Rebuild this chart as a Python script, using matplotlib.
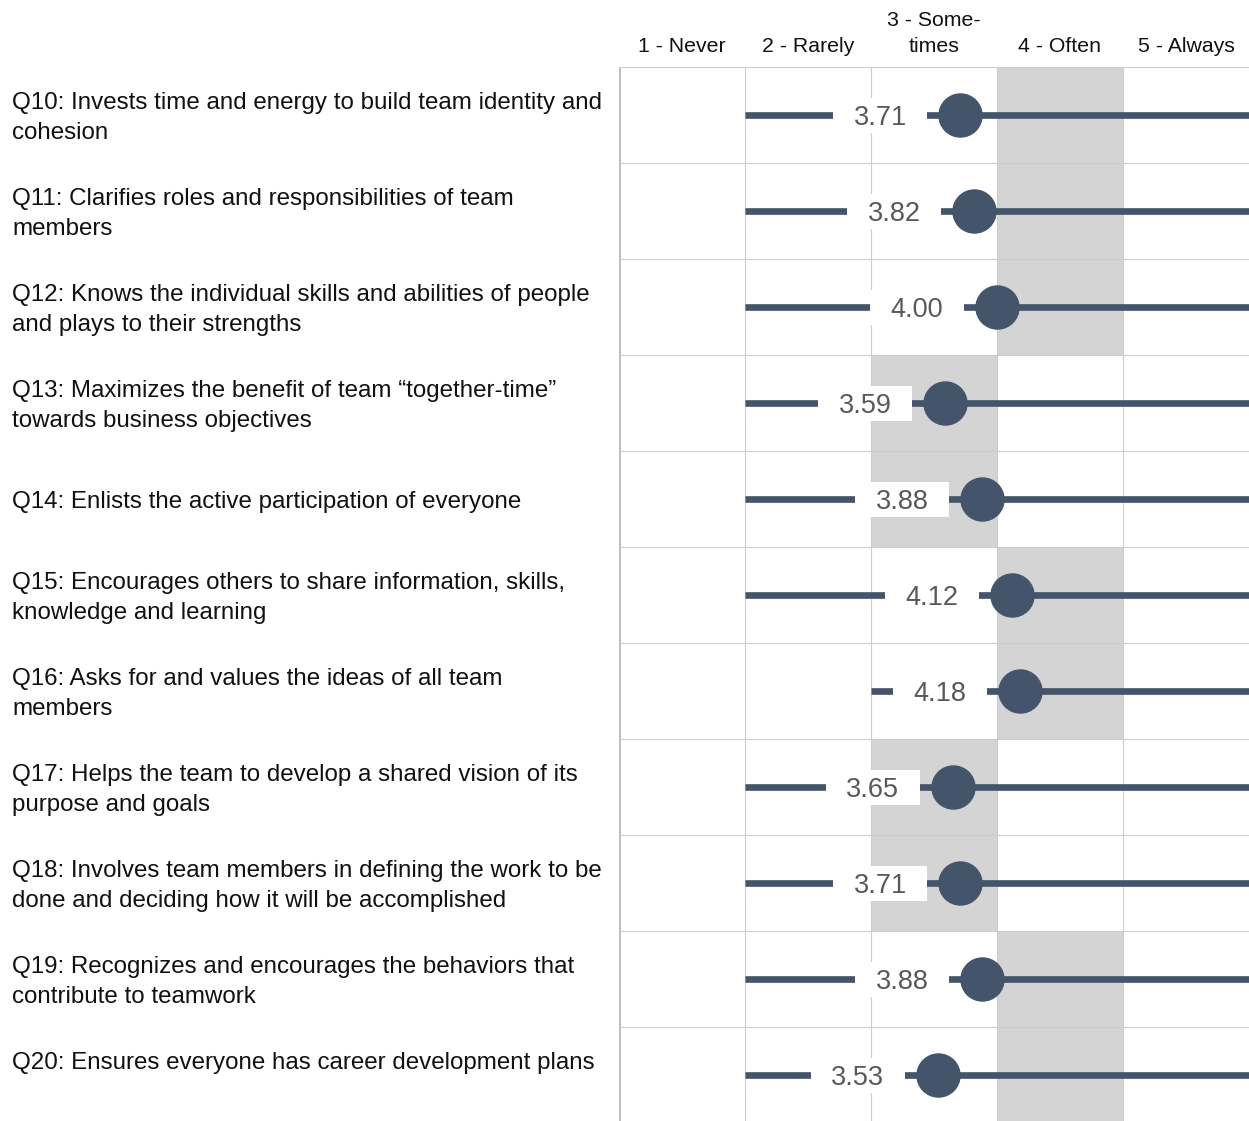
import matplotlib
matplotlib.use("Agg")
import matplotlib.pyplot as plt
from matplotlib.patches import Rectangle
from matplotlib import transforms

plt.rcParams['font.family'] = ['Liberation Sans', 'DejaVu Sans']

questions = [
    "Q10: Invests time and energy to build team identity and\ncohesion",
    "Q11: Clarifies roles and responsibilities of team\nmembers",
    "Q12: Knows the individual skills and abilities of people\nand plays to their strengths",
    "Q13: Maximizes the benefit of team \u201ctogether-time\u201d\ntowards business objectives",
    "Q14: Enlists the active participation of everyone",
    "Q15: Encourages others to share information, skills,\nknowledge and learning",
    "Q16: Asks for and values the ideas of all team\nmembers",
    "Q17: Helps the team to develop a shared vision of its\npurpose and goals",
    "Q18: Involves team members in defining the work to be\ndone and deciding how it will be accomplished",
    "Q19: Recognizes and encourages the behaviors that\ncontribute to teamwork",
    "Q20: Ensures everyone has career development plans\n",
]
means = [3.71, 3.82, 4.00, 3.59, 3.88, 4.12, 4.18, 3.65, 3.71, 3.88, 3.53]
min_resp = [2, 2, 2, 2, 2, 2, 3, 2, 2, 2, 2]
max_resp = [5, 5, 5, 5, 5, 5, 5, 5, 5, 5, 5]
mode_resp = [4, 4, 4, 3, 3, 4, 4, 3, 3, 4, 4]
scale_labels = ["1 - Never", "2 - Rarely", "3 - Some-\ntimes", "4 - Often", "5 - Always"]

W, H = 1249, 1121
navy = "#44546a"
grid_c = "#cccccc"

fig = plt.figure(figsize=(W / 100, H / 100), dpi=100)
ax = fig.add_axes([619 / W, 0, 630 / W, 1054 / H])
ax.set_xlim(1, 6)
ax.set_ylim(-0.5 + 1054 / 96, -0.5)
ax.axis("off")

px = 1 / 126  # data units per pixel, x
py = 1 / 96   # data units per pixel, y
n = len(questions)

# grid
for x in [2, 3, 4, 5]:
    ax.axvline(x, color=grid_c, lw=0.8, zorder=1)
ax.axvline(1, color="#bbbbbb", lw=2.0, zorder=1)
for i in range(n + 1):
    ax.axhline(i - 0.5, color=grid_c, lw=0.8, zorder=1)

lbl_tr = transforms.blended_transform_factory(fig.transFigure, ax.transData)

for i, q in enumerate(questions):
    m = means[i]
    # shaded mode column
    ax.add_patch(Rectangle((mode_resp[i], i - 0.5), 1, 1, facecolor="#d4d4d4",
                           edgecolor="none", zorder=0))
    # range line
    ax.plot([min_resp[i], max_resp[i] + 1], [i, i], color=navy, lw=4.8,
            solid_capstyle="butt", zorder=2)
    # value label box
    ax.add_patch(Rectangle((m - 127 * px, i - 17.5 * py), 94 * px, 35 * py,
                           facecolor="white", edgecolor="none", zorder=3))
    ax.text(m - 80 * px, i + 10 * py, f"{m:.2f}", ha="center", va="baseline",
            fontsize=19.5, color="#595959", zorder=4)
    ax.plot(m, i, "o", ms=31, color=navy, zorder=5)
    # question text
    ax.text(12 / W, i + 3 * py, q, transform=lbl_tr, ha="left", va="center",
            fontsize=17.4, color="#111111", linespacing=1.42, clip_on=False)

for c, s in enumerate(scale_labels, start=1):
    fig.text((619 + (c - 0.5) * 126) / W, 1 - 56 / H, s, ha="center", va="bottom",
             fontsize=15.3, color="#111111", linespacing=1.5)

fig.savefig("out.png", dpi=100)
